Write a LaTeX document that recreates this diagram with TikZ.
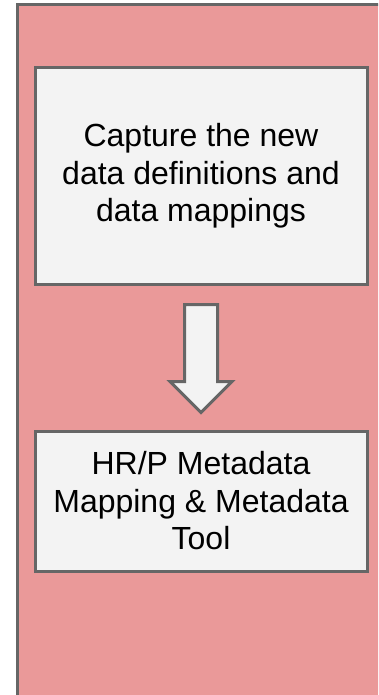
\documentclass[tikz,border=0pt]{standalone}
\usepackage{fontspec}
\setmainfont{Liberation Sans}
\usepackage{tikz}
\usetikzlibrary{positioning}
\definecolor{lanepink}{HTML}{EA9999}
\definecolor{boxgray}{HTML}{F3F3F3}
\definecolor{edgegray}{HTML}{666666}
\tikzset{every picture/.style={line width=3pt}}
\tikzset{stepbox/.style={draw=edgegray, fill=boxgray, minimum width=332pt, align=center,
  inner sep=0pt, font=\fontsize{32}{37.5}\selectfont}}

\begin{document}
\begin{tikzpicture}[x=1pt, y=-1pt]
\useasboundingbox (0,0) rectangle (378,695);
% swimlane
\begin{scope}
\clip (0,0) rectangle (378,695);
\draw[edgegray, fill=lanepink] (17.5,4.5) rectangle (385,697);
\end{scope}
% steps
\node[stepbox, minimum height=216pt] (cap) at (201,176) {Capture the new\\data definitions and\\data mappings};
\node[stepbox, minimum height=140pt, below=144pt of cap] (tool) {HR/P Metadata\\Mapping \& Metadata\\Tool};
% arrow
\draw[edgegray, fill=boxgray, line join=miter]
  ([xshift=-16.5pt, yshift=-19pt]cap.south) -- ([xshift=16.5pt, yshift=-19pt]cap.south)
  -- ([xshift=16.5pt, yshift=48pt]tool.north) -- ([xshift=31pt, yshift=48pt]tool.north)
  -- ([yshift=17pt]tool.north) -- ([xshift=-31pt, yshift=48pt]tool.north)
  -- ([xshift=-16.5pt, yshift=48pt]tool.north) -- cycle;
\end{tikzpicture}
\end{document}
